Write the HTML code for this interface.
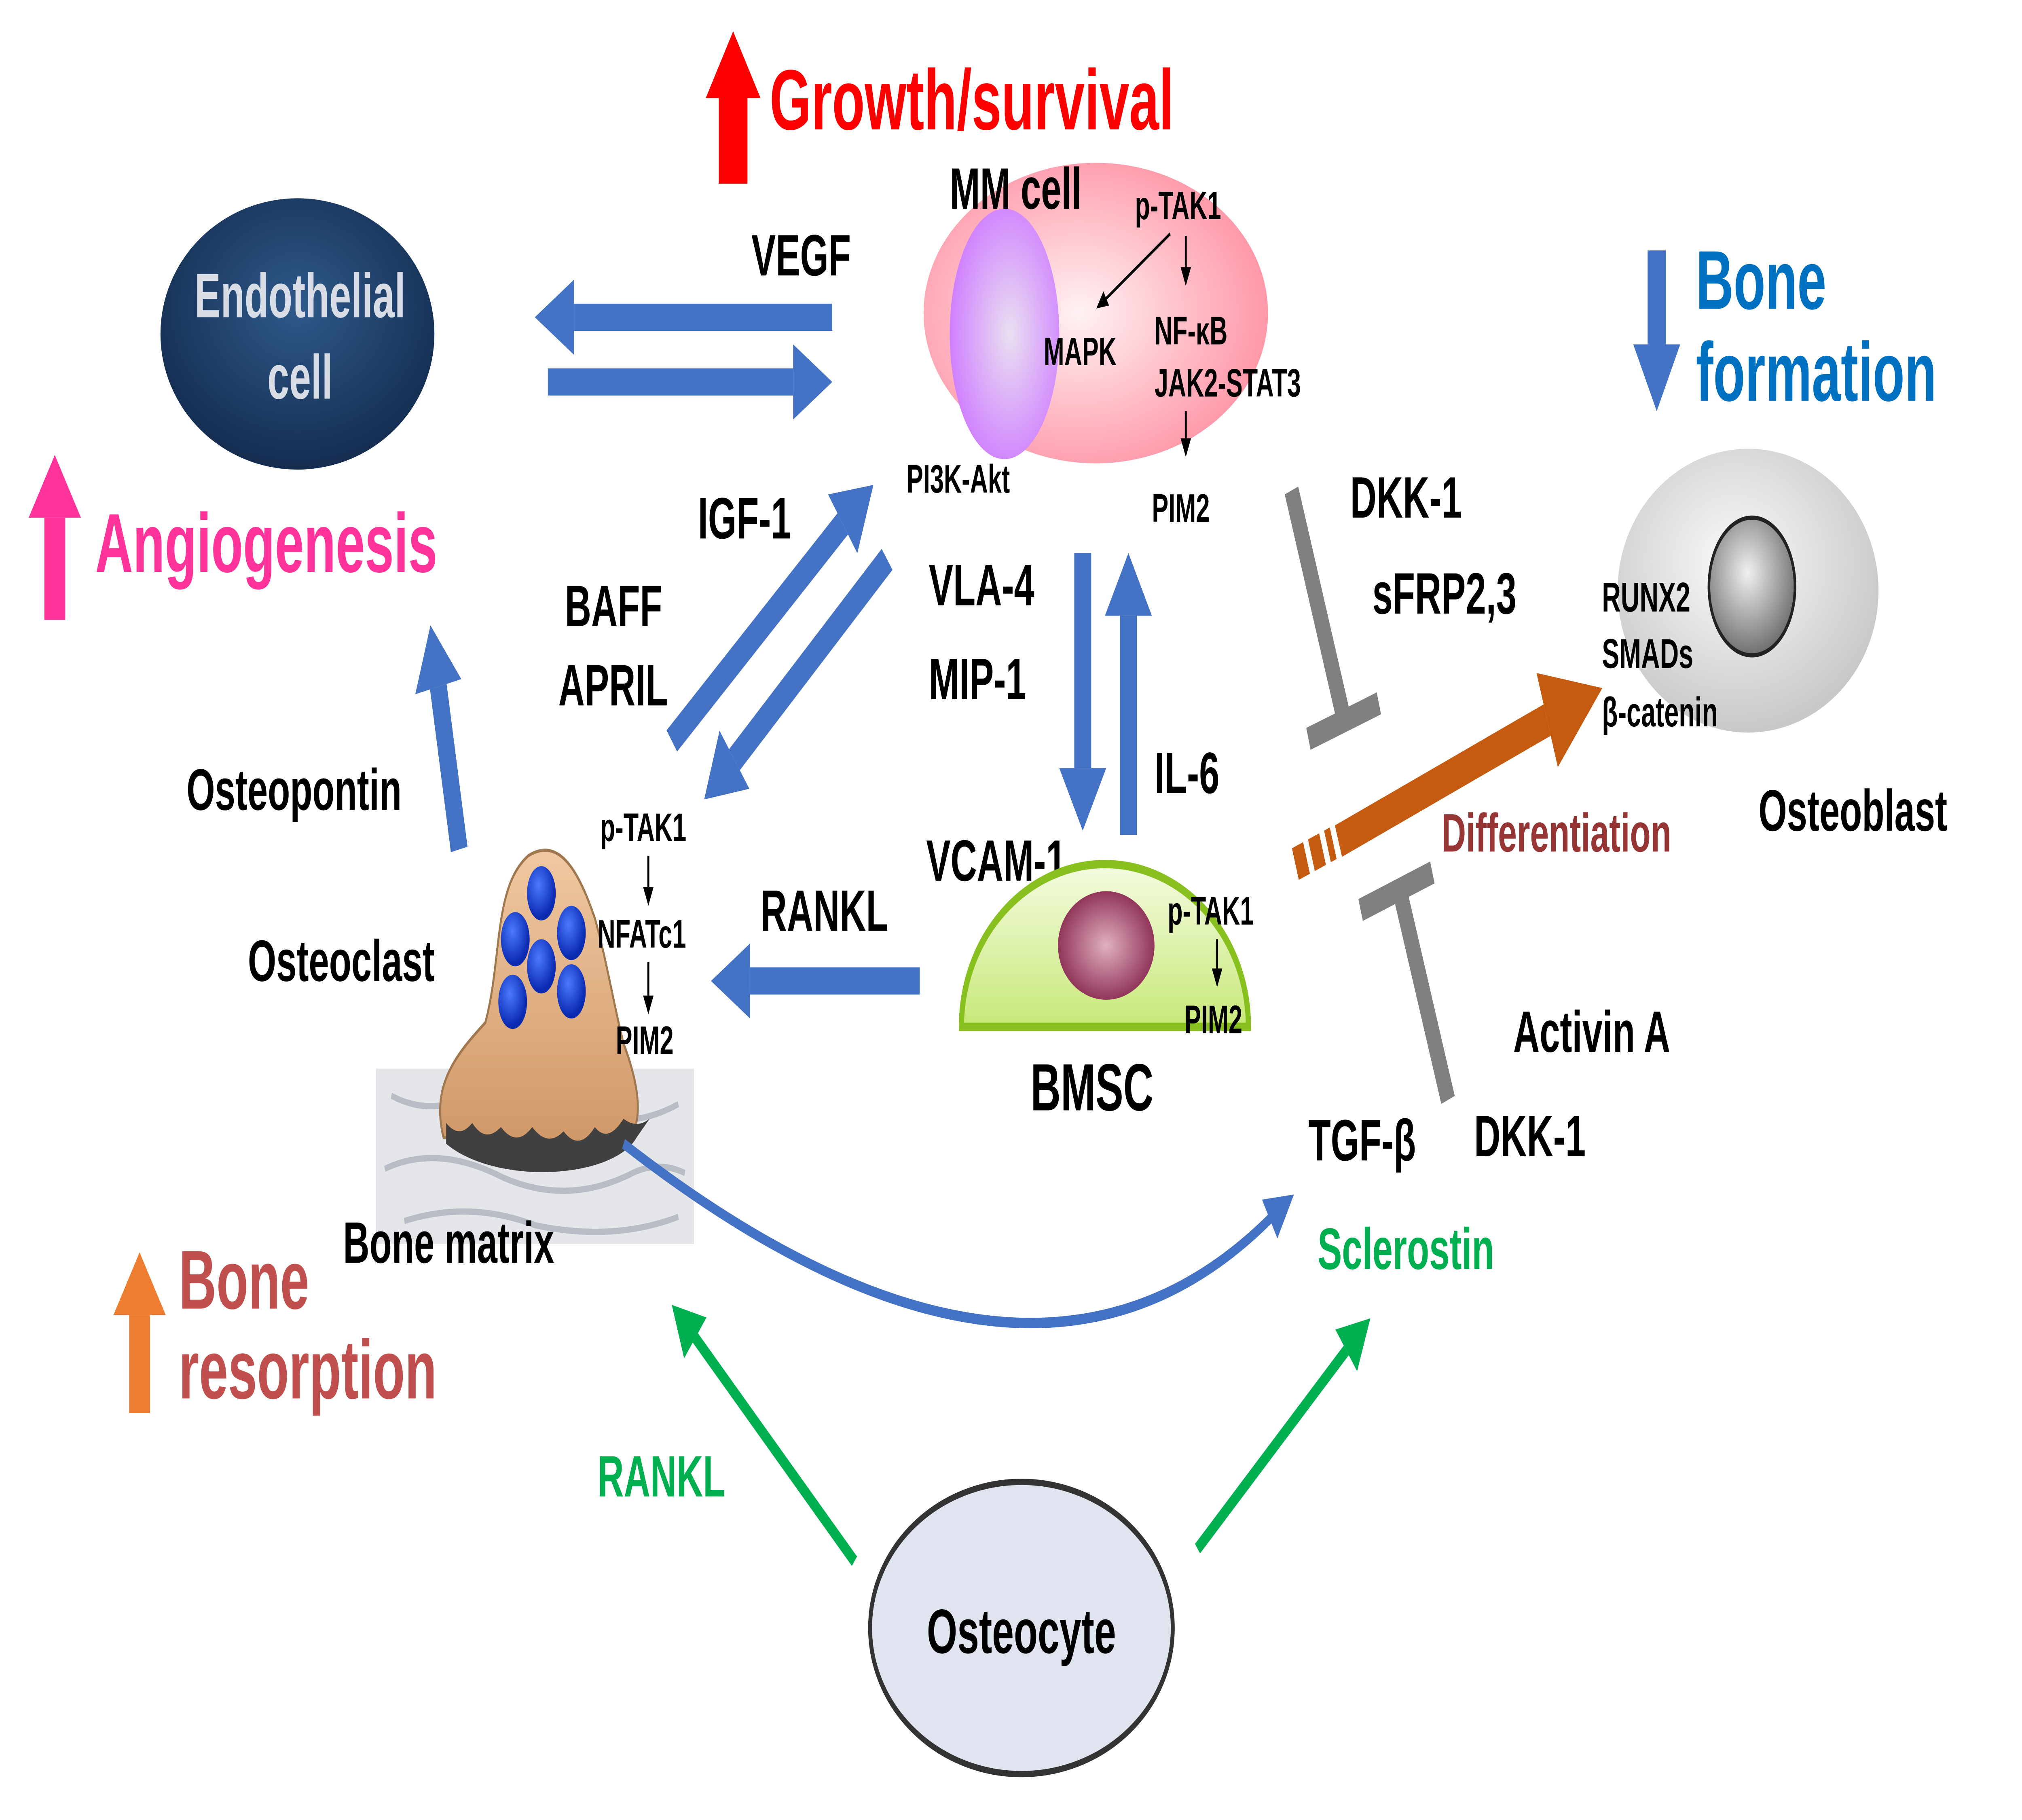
<!DOCTYPE html>
<html><head><meta charset="utf-8"><style>
html,body{margin:0;padding:0;background:#fff;overflow:hidden;}
svg{display:block;width:100vw;height:100vh;}
text{font-family:"Liberation Sans",Arial,sans-serif;font-weight:bold;}
</style></head><body>
<svg viewBox="0 0 1550 872" preserveAspectRatio="none" xmlns="http://www.w3.org/2000/svg">
<defs>
<radialGradient id="endo" cx="50%" cy="40%" r="60%"><stop offset="0" stop-color="#2f5a8a"/><stop offset="1" stop-color="#142c50"/></radialGradient>
<radialGradient id="mm" cx="45%" cy="50%" r="55%"><stop offset="0" stop-color="#fff2f4"/><stop offset="1" stop-color="#ff98a8"/></radialGradient>
<radialGradient id="nuc" cx="55%" cy="50%" r="55%"><stop offset="0" stop-color="#e8e0f0"/><stop offset="1" stop-color="#d080ff"/></radialGradient>
<radialGradient id="ob" cx="45%" cy="40%" r="60%"><stop offset="0" stop-color="#fafafa"/><stop offset="1" stop-color="#c8c8c8"/></radialGradient>
<radialGradient id="obn" cx="45%" cy="40%" r="60%"><stop offset="0" stop-color="#f0f0f0"/><stop offset="1" stop-color="#707070"/></radialGradient>
<linearGradient id="bmsc" x1="0" y1="0" x2="0" y2="1"><stop offset="0" stop-color="#f4fbe0"/><stop offset="1" stop-color="#c8e878"/></linearGradient>
<radialGradient id="bn" cx="50%" cy="50%" r="55%"><stop offset="0" stop-color="#e0b0c0"/><stop offset="1" stop-color="#8a2a50"/></radialGradient>
<radialGradient id="ocn" cx="40%" cy="35%" r="60%"><stop offset="0" stop-color="#4a7aff"/><stop offset="1" stop-color="#0a2ab0"/></radialGradient>
<linearGradient id="oc" x1="0" y1="0" x2="0" y2="1"><stop offset="0" stop-color="#f0c8a0"/><stop offset="1" stop-color="#d09868"/></linearGradient>
<marker id="bh" markerUnits="userSpaceOnUse" markerWidth="10" markerHeight="10" orient="auto" style="overflow:visible"><path d="M0,-18 L30,0 L0,18 z" fill="#4472c4"/></marker>
<marker id="bs" markerUnits="userSpaceOnUse" markerWidth="10" markerHeight="10" orient="auto" style="overflow:visible"><path d="M-2,-11 L20,0 L-2,11 z" fill="#4472c4"/></marker>
<marker id="gh" markerUnits="userSpaceOnUse" markerWidth="10" markerHeight="10" orient="auto" style="overflow:visible"><path d="M0,-13 L24,0 L0,13 z" fill="#00b050"/></marker>
<marker id="oh" markerUnits="userSpaceOnUse" markerWidth="10" markerHeight="10" orient="auto" style="overflow:visible"><path d="M0,-24 L45,0 L0,24 z" fill="#c55a11"/></marker>
<marker id="kh" markerUnits="userSpaceOnUse" markerWidth="10" markerHeight="10" orient="auto" style="overflow:visible"><path d="M0,-4 L9,0 L0,4 z" fill="#000"/></marker>
<marker id="rh" markerUnits="userSpaceOnUse" markerWidth="10" markerHeight="10" orient="auto" style="overflow:visible"><path d="M0,-21 L32,0 L0,21 z" fill="#ff0000"/></marker>
<marker id="ph" markerUnits="userSpaceOnUse" markerWidth="10" markerHeight="10" orient="auto" style="overflow:visible"><path d="M0,-20 L30,0 L0,20 z" fill="#ff3399"/></marker>
<marker id="orh" markerUnits="userSpaceOnUse" markerWidth="10" markerHeight="10" orient="auto" style="overflow:visible"><path d="M0,-20 L30,0 L0,20 z" fill="#ed7d31"/></marker>
<marker id="bfh" markerUnits="userSpaceOnUse" markerWidth="10" markerHeight="10" orient="auto" style="overflow:visible"><path d="M0,-18 L32,0 L0,18 z" fill="#4472c4"/></marker>
</defs>

<line x1="562" y1="88" x2="562" y2="47" stroke="#ff0000" stroke-width="22" marker-end="url(#rh)"/>
<text x="590" y="62" font-size="41" fill="#ff0000">Growth/survival</text>

<ellipse cx="228" cy="160" rx="105" ry="65" fill="url(#endo)"/>
<text x="230" y="152" font-size="30" fill="#d8dde6" text-anchor="middle">Endothelial</text>
<text x="230" y="191" font-size="30" fill="#d8dde6" text-anchor="middle">cell</text>
<line x1="42" y1="297" x2="42" y2="248" stroke="#ff3399" stroke-width="16" marker-end="url(#ph)"/>
<text x="73" y="274" font-size="40" fill="#ff3399">Angiogenesis</text>

<text x="576" y="132" font-size="28">VEGF</text>
<line x1="638" y1="152" x2="440" y2="152" stroke="#4472c4" stroke-width="13" marker-end="url(#bh)"/>
<line x1="420" y1="183" x2="608" y2="183" stroke="#4472c4" stroke-width="13" marker-end="url(#bh)"/>

<ellipse cx="840" cy="150" rx="132" ry="72" fill="url(#mm)"/>
<ellipse cx="770" cy="160" rx="42" ry="60" fill="url(#nuc)"/>
<text x="728" y="100" font-size="28">MM cell</text>
<text x="870" y="105" font-size="19">p-TAK1</text>
<line x1="897" y1="112" x2="848" y2="143" stroke="#000" stroke-width="1.5" marker-end="url(#kh)"/>
<line x1="909" y1="113" x2="909" y2="128" stroke="#000" stroke-width="1.5" marker-end="url(#kh)"/>
<text x="800" y="175" font-size="19">MAPK</text>
<text x="885" y="165" font-size="19">NF-κB</text>
<text x="885" y="190" font-size="19">JAK2-STAT3</text>
<line x1="909" y1="197" x2="909" y2="210" stroke="#000" stroke-width="1.5" marker-end="url(#kh)"/>
<text x="883" y="250" font-size="19">PIM2</text>
<text x="695" y="236" font-size="19">PI3K-Akt</text>

<line x1="1270" y1="120" x2="1270" y2="165" stroke="#4472c4" stroke-width="14" marker-end="url(#bfh)"/>
<text x="1300" y="148" font-size="40" fill="#0070c0">Bone</text>
<text x="1300" y="192" font-size="40" fill="#0070c0">formation</text>

<ellipse cx="1340" cy="283" rx="100" ry="68" fill="url(#ob)"/>
<circle cx="1343" cy="281" r="33" fill="url(#obn)" stroke="#222" stroke-width="2"/>
<text x="1228" y="293" font-size="20">RUNX2</text>
<text x="1228" y="320" font-size="20">SMADs</text>
<text x="1228" y="348" font-size="20">β-catenin</text>
<text x="1348" y="398" font-size="28">Osteoblast</text>

<text x="1035" y="248" font-size="28">DKK-1</text>
<text x="1052" y="294" font-size="28">sFRP2,3</text>

<line x1="990" y1="235" x2="1030" y2="344" stroke="#808080" stroke-width="11"/>
<line x1="1003" y1="354" x2="1057" y2="337" stroke="#808080" stroke-width="11"/>
<line x1="1110" y1="527" x2="1073" y2="427" stroke="#808080" stroke-width="11"/>
<line x1="1043" y1="436" x2="1098" y2="418" stroke="#808080" stroke-width="11"/>

<line x1="993" y1="414" x2="1022" y2="404" stroke="#c55a11" stroke-width="16" stroke-dasharray="9,4"/>
<line x1="1026" y1="403" x2="1186" y2="345" stroke="#c55a11" stroke-width="16" marker-end="url(#oh)"/>
<text x="1105" y="408" font-size="26" fill="#963634">Differentiation</text>

<text x="535" y="258" font-size="28">IGF-1</text>
<text x="433" y="300" font-size="28">BAFF</text>
<text x="428" y="338" font-size="28">APRIL</text>
<text x="712" y="290" font-size="28">VLA-4</text>
<text x="712" y="335" font-size="28">MIP-1</text>
<text x="885" y="380" font-size="28">IL-6</text>
<text x="710" y="422" font-size="28">VCAM-1</text>
<text x="583" y="446" font-size="28">RANKL</text>
<text x="143" y="388" font-size="28">Osteopontin</text>
<text x="190" y="470" font-size="28">Osteoclast</text>

<line x1="515" y1="355" x2="646" y2="251" stroke="#4472c4" stroke-width="13" marker-end="url(#bh)"/>
<line x1="680" y1="268" x2="563" y2="364" stroke="#4472c4" stroke-width="13" marker-end="url(#bh)"/>
<line x1="830" y1="265" x2="830" y2="368" stroke="#4472c4" stroke-width="13" marker-end="url(#bh)"/>
<line x1="865" y1="400" x2="865" y2="295" stroke="#4472c4" stroke-width="13" marker-end="url(#bh)"/>
<line x1="705" y1="470" x2="575" y2="470" stroke="#4472c4" stroke-width="13" marker-end="url(#bh)"/>
<line x1="352" y1="407" x2="336" y2="329" stroke="#4472c4" stroke-width="13" marker-end="url(#bh)"/>

<path d="M737,492 A110,78 0 0 1 957,492 Z" fill="url(#bmsc)" stroke="#88c020" stroke-width="4"/>
<ellipse cx="848" cy="453" rx="37" ry="26" fill="url(#bn)"/>
<text x="895" y="443" font-size="19">p-TAK1</text>
<line x1="933" y1="450" x2="933" y2="464" stroke="#000" stroke-width="1.5" marker-end="url(#kh)"/>
<text x="908" y="495" font-size="19">PIM2</text>
<text x="790" y="532" font-size="32">BMSC</text>

<rect x="288" y="512" width="244" height="84" fill="#e4e6ea"/>
<path d="M300,525 q30,10 60,0 q40,-8 80,6 q40,12 80,-2 M295,560 q40,-12 90,4 q50,14 100,-2 q20,-6 40,0 M310,585 q50,-10 100,2 q60,8 110,-4" stroke="#b8bcc4" stroke-width="3" fill="none"/>
<path d="M340,545 C330,520 350,505 372,490 C385,460 378,425 405,410 C430,400 445,420 456,440 C465,460 470,480 478,500 C490,520 495,540 478,548 Z" fill="url(#oc)" stroke="#a07850" stroke-width="1.5"/>
<path d="M342,538 q10,8 20,0 q10,10 22,2 q12,10 24,0 q12,10 24,2 q12,10 24,-2 q10,8 22,-4 q10,5 20,0 L488,545 C470,565 380,568 342,548 Z" fill="#404040"/>
<g fill="url(#ocn)">
<ellipse cx="415" cy="428" rx="11" ry="13"/>
<ellipse cx="395" cy="450" rx="11" ry="13"/>
<ellipse cx="438" cy="447" rx="11" ry="13"/>
<ellipse cx="415" cy="463" rx="11" ry="13"/>
<ellipse cx="438" cy="475" rx="11" ry="13"/>
<ellipse cx="393" cy="480" rx="11" ry="13"/>
</g>
<text x="460" y="403" font-size="19">p-TAK1</text>
<line x1="497" y1="410" x2="497" y2="425" stroke="#000" stroke-width="1.5" marker-end="url(#kh)"/>
<text x="458" y="454" font-size="19">NFATc1</text>
<line x1="497" y1="461" x2="497" y2="477" stroke="#000" stroke-width="1.5" marker-end="url(#kh)"/>
<text x="472" y="505" font-size="19">PIM2</text>
<text x="263" y="605" font-size="28">Bone matrix</text>

<path d="M478,548 Q790,700 975,583" stroke="#4472c4" stroke-width="5" fill="none" marker-end="url(#bs)"/>

<line x1="107" y1="677" x2="107" y2="630" stroke="#ed7d31" stroke-width="16" marker-end="url(#orh)"/>
<text x="137" y="627" font-size="40" fill="#c0504d">Bone</text>
<text x="137" y="670" font-size="40" fill="#c0504d">resorption</text>

<text x="1160" y="504" font-size="28">Activin A</text>
<text x="1130" y="554" font-size="28">DKK-1</text>
<text x="1003" y="556" font-size="28">TGF-β</text>
<text x="1010" y="608" font-size="28" fill="#00b050">Sclerostin</text>
<text x="458" y="717" font-size="28" fill="#00b050">RANKL</text>

<line x1="655" y1="748" x2="533" y2="641" stroke="#00b050" stroke-width="6" marker-end="url(#gh)"/>
<line x1="918" y1="742" x2="1032" y2="647" stroke="#00b050" stroke-width="6" marker-end="url(#gh)"/>
<ellipse cx="783" cy="780" rx="116" ry="70" fill="#dfe4ee" stroke="#333" stroke-width="3"/>
<text x="783" y="792" font-size="30" text-anchor="middle">Osteocyte</text>
</svg>
</body></html>
